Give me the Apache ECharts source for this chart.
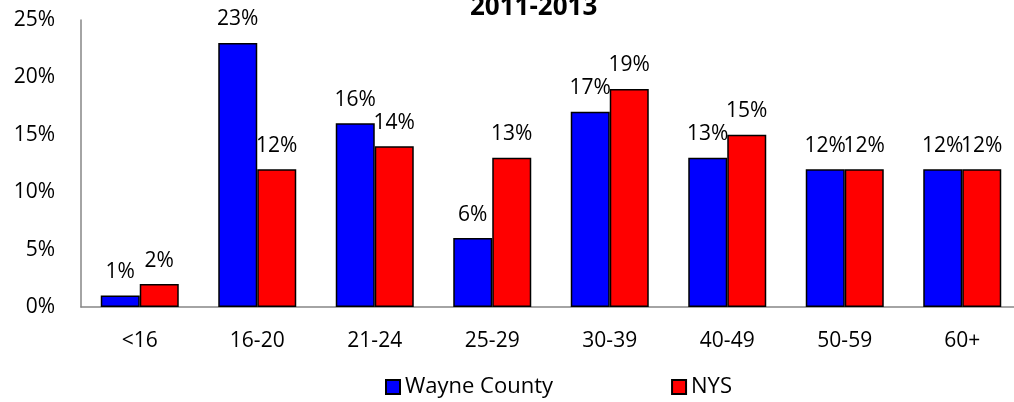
<!DOCTYPE html>
<html>
<head>
<meta charset="utf-8">
<script src="https://cdn.jsdelivr.net/npm/echarts@6/dist/echarts.min.js"></script>
<style>
  html, body { margin: 0; padding: 0; background: #fff; }
  #barChart { width: 1014px; height: 402px; }
</style>
</head>
<body>
<div id="barChart"></div>
<script>
// age groups on the x axis
var categories = ["<16", "16-20", "21-24", "25-29", "30-39", "40-49", "50-59", "60+"];
// percent of each group
var wayneCounty = [1, 23, 16, 6, 17, 13, 12, 12];
var nys = [2, 12, 14, 13, 19, 15, 12, 12];
var yTicks = { min: 0, max: 25, interval: 5 };

var chartFont = "'Open Sans', 'Liberation Sans', sans-serif";
var myChart = echarts.init(document.getElementById("barChart"));

var labelStyle = {
  show: true,
  position: "top",
  distance: 13,
  color: "#000",
  fontFamily: chartFont,
  fontSize: 21,
  formatter: "{c}%"
};

var option = {
  animation: false,
  title: {
    text: "2011-2013",
    left: 465,
    top: -10,
    textStyle: { fontFamily: chartFont, fontSize: 26, fontWeight: "bold", color: "#000" }
  },
  legend: {
    bottom: -1,
    left: 380,
    itemWidth: 14,
    itemHeight: 14,
    itemGap: 118,
    icon: "rect",
    textStyle: { fontFamily: chartFont, fontSize: 22, color: "#000" },
    data: ["Wayne County", "NYS"]
  },
  grid: {
    left: 81,
    top: 20,
    width: 940,
    height: 287,
    containLabel: false,
    outerBoundsMode: "none"
  },
  xAxis: {
    type: "category",
    data: categories,
    axisLine: { lineStyle: { color: "#868686", width: 1.5 } },
    axisTick: { show: false },
    axisLabel: { margin: 24, color: "#000", fontFamily: chartFont, fontSize: 21 }
  },
  yAxis: {
    type: "value",
    min: yTicks.min,
    max: yTicks.max,
    interval: yTicks.interval,
    axisLine: { show: true, lineStyle: { color: "#868686", width: 1.5 } },
    axisTick: { show: false },
    splitLine: { show: false },
    axisLabel: {
      margin: 26,
      color: "#000",
      fontFamily: chartFont,
      fontSize: 21,
      formatter: "{value}%"
    }
  },
  series: [
    {
      name: "Wayne County",
      type: "bar",
      barWidth: 39,
      barGap: "0%",
      itemStyle: { color: "#0000ff", borderColor: "#000", borderWidth: 1.5 },
      label: labelStyle,
      data: wayneCounty
    },
    {
      name: "NYS",
      type: "bar",
      barWidth: 39,
      barGap: "0%",
      itemStyle: { color: "#ff0000", borderColor: "#000", borderWidth: 1.5 },
      label: labelStyle,
      data: nys
    }
  ]
};

myChart.setOption(option);
</script>
</body>
</html>
